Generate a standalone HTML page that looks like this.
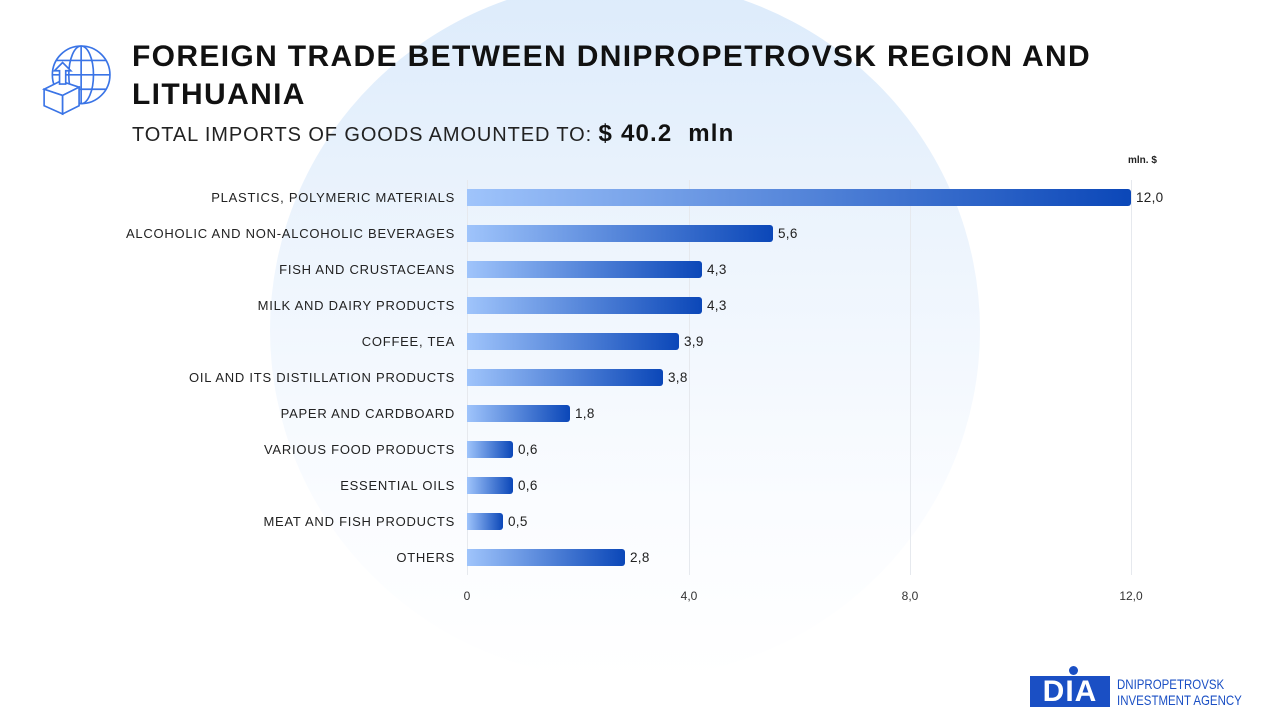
<!DOCTYPE html>
<html><head><meta charset="utf-8"><style>
body{margin:0;width:1280px;height:720px;overflow:hidden;background:#fff;font-family:"Liberation Sans",sans-serif;position:relative}
.bg{position:absolute;left:270px;top:-20px;width:710px;height:700px;border-radius:50%;background:linear-gradient(180deg,#dcebfb 0%,#eef5fd 40%,#fafcff 75%,#fff 100%)}
.t{position:absolute;left:132px;top:38px;font-size:30px;font-weight:bold;color:#111;line-height:38px;letter-spacing:1.35px}
.s{position:absolute;left:132px;top:120px;font-size:20px;color:#222;letter-spacing:0.9px}
.s b{font-size:24px;color:#111;letter-spacing:1.2px}
.lab{position:absolute;right:825px;font-size:13px;color:#222;letter-spacing:0.75px;white-space:nowrap}
.bar{position:absolute;left:467px;height:17px;border-radius:0 3px 3px 0;background:linear-gradient(90deg,#9fc4fb,#0b47b8)}
.v{position:absolute;font-size:13.5px;color:#222;letter-spacing:0.3px}
.g{position:absolute;top:180px;width:1px;height:395px;background:#e6e9ee}
.tk{position:absolute;top:589px;font-size:12px;color:#333;transform:translateX(-50%)}
</style></head><body>
<div class="bg"></div>
<svg style="position:absolute;left:40px;top:44px" width="72" height="72" viewBox="0 0 70 70" fill="none" stroke="#3a74e6" stroke-width="1.6">
<circle cx="40" cy="30" r="28"/><ellipse cx="40" cy="30" rx="12" ry="28"/><line x1="40" y1="2" x2="40" y2="58"/><line x1="12" y1="30" x2="68" y2="30"/><path d="M16 16h48M16 44h48"/>
<path d="M4 44l16-8 18 6-16 8z" fill="#fff"/><path d="M4 44v16l18 8V50z" fill="#fff"/><path d="M22 50v18l16-8V42z" fill="#fff"/>
<path d="M22 18l-8 8h5v13h6V26h5z" fill="#fff"/></svg>
<div class="t">FOREIGN TRADE BETWEEN DNIPROPETROVSK REGION AND<br>LITHUANIA</div>
<div class="s">TOTAL IMPORTS OF GOODS AMOUNTED TO: <b>$ 40.2&nbsp; mln</b></div>
<div style="position:absolute;left:1128px;top:155px;font-size:10px;font-weight:bold;color:#222">mln. $</div>
<div class="g" style="left:467px"></div><div class="g" style="left:689px"></div><div class="g" style="left:910px"></div><div class="g" style="left:1131px"></div>
<div class="tk" style="left:467px">0</div><div class="tk" style="left:689px">4,0</div><div class="tk" style="left:910px">8,0</div><div class="tk" style="left:1131px">12,0</div>
<div id="c"></div>
<script>
var d=[["PLASTICS, POLYMERIC MATERIALS",12,"12,0",1131],["ALCOHOLIC AND NON-ALCOHOLIC BEVERAGES",5.6,"5,6",773],["FISH AND CRUSTACEANS",4.3,"4,3",702],["MILK AND DAIRY PRODUCTS",4.3,"4,3",702],["COFFEE, TEA",3.9,"3,9",679],["OIL AND ITS DISTILLATION PRODUCTS",3.8,"3,8",663],["PAPER AND CARDBOARD",1.8,"1,8",570],["VARIOUS FOOD PRODUCTS",0.6,"0,6",513],["ESSENTIAL OILS",0.6,"0,6",513],["MEAT AND FISH PRODUCTS",0.5,"0,5",503],["OTHERS",2.8,"2,8",625]];
var h="";d.forEach(function(r,i){var y=198+36*i;
h+='<div class="lab" style="top:'+(y-8)+'px">'+r[0]+'</div><div class="bar" style="top:'+(y-9)+'px;width:'+(r[3]-467)+'px"></div><div class="v" style="left:'+(r[3]+5)+'px;top:'+(y-8)+'px">'+r[2]+'</div>';});
document.getElementById("c").innerHTML=h;
</script>
<div style="position:absolute;left:1030px;top:676px;width:80px;height:31px;background:#1a4fc4;color:#fff;font-weight:bold;font-size:30px;line-height:31px;text-align:center;letter-spacing:1px">DIA</div>
<div style="position:absolute;left:1069px;top:666px;width:9px;height:9px;border-radius:50%;background:#1a4fc4"></div>
<div style="position:absolute;left:1117px;top:676px;font-size:14px;line-height:16px;color:#1a4fc4;transform:scaleX(0.82);transform-origin:left">DNIPROPETROVSK<br>INVESTMENT AGENCY</div>
</body></html>
